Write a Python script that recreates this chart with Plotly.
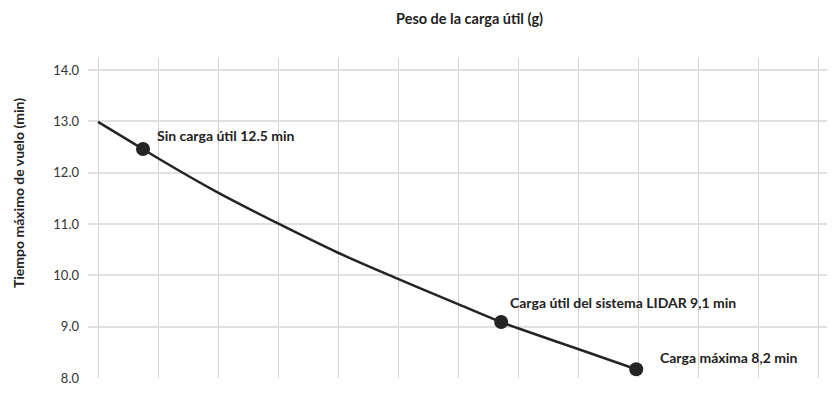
import plotly.graph_objects as go

# curve (payload in g, flight time in min)
peso = [0, 75, 100, 200, 300, 400, 500, 600, 672, 700, 800, 897]
tiempo = [12.99, 12.46, 12.28, 11.61, 11.01, 10.44, 9.93, 9.44, 9.09, 8.97, 8.565, 8.17]

# highlighted points
peso_pts = [75, 672, 897]
tiempo_pts = [12.46, 9.09, 8.17]
etiquetas = ["Sin carga útil 12.5 min",
             "Carga útil del sistema LIDAR 9,1 min",
             "Carga máxima 8,2 min"]
shifts = [(12, 14), (7, 20), (22, 12)]

y_ticks = [8, 9, 10, 11, 12, 13, 14]

fig = go.Figure()
fig.add_trace(go.Scatter(x=peso, y=tiempo, mode="lines",
                         line=dict(color="#242424", width=2.5, shape="spline", smoothing=1),
                         hoverinfo="skip", showlegend=False))
fig.add_trace(go.Scatter(x=peso_pts, y=tiempo_pts, mode="markers",
                         marker=dict(color="#242424", size=14),
                         showlegend=False))

for px, py, txt, (dx, dy) in zip(peso_pts, tiempo_pts, etiquetas, shifts):
    fig.add_annotation(x=px, y=py, text="<b>" + txt + "</b>", showarrow=False,
                       xanchor="left", yanchor="middle", xshift=dx, yshift=dy,
                       font=dict(size=14, color="#222222"))

# axis titles placed as in the original
fig.add_annotation(x=0.5156, y=1.125, xref="paper", yref="paper",
                   text="<b>Peso de la carga útil (g)</b>", showarrow=False,
                   xanchor="center", yanchor="middle",
                   font=dict(size=14.5, color="#222222"))
fig.add_annotation(x=-0.1082, y=0.5766, xref="paper", yref="paper",
                   text="<b>Tiempo máximo de vuelo (min)</b>", showarrow=False,
                   textangle=-90, xanchor="left", yanchor="middle",
                   font=dict(size=14, color="#222222"))

fig.update_layout(
    width=832, height=402,
    margin=dict(l=80, r=13, t=50, b=32),
    paper_bgcolor="white", plot_bgcolor="white",
    font=dict(family="Lato, 'Open Sans', sans-serif", color="#333333"),
    xaxis=dict(range=[-16.7, 1215], dtick=100, tick0=0, showticklabels=False,
               showgrid=True, gridcolor="#d2d2d2", gridwidth=1,
               zeroline=False, showline=False, ticks=""),
    yaxis=dict(range=[8, 14.234], tickvals=y_ticks, tickformat=".1f",
               showgrid=True, gridcolor="#e0e0e0", gridwidth=1.5,
               zeroline=False, showline=False, ticks="",
               tickfont=dict(size=13, color="#333333"), ticklabelstandoff=8),
)

fig.write_html("out.html")
